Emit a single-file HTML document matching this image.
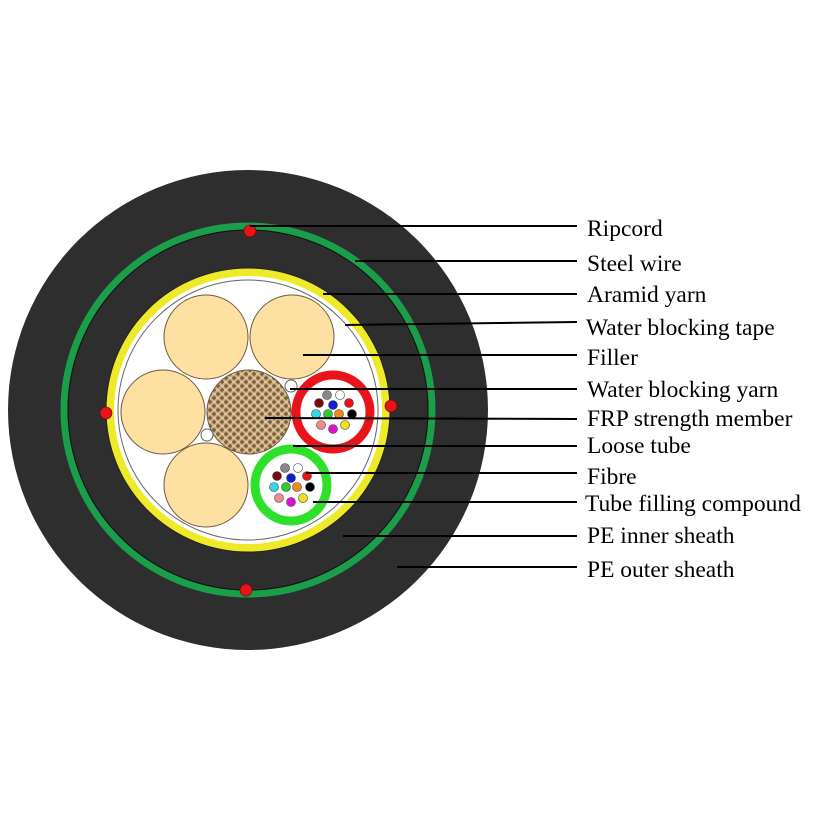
<!DOCTYPE html>
<html><head><style>body{margin:0;background:#fff}svg{display:block}</style></head><body>
<svg width="823" height="823" viewBox="0 0 823 823" xmlns="http://www.w3.org/2000/svg">
<defs>
<pattern id="jute" width="8" height="8" patternUnits="userSpaceOnUse">
<rect width="8" height="8" fill="#c9ad82"/>
<path d="M0 2h4M4 6h4M2 0v4M6 4v4" stroke="#7a5a32" stroke-width="1.5"/>
<path d="M0 6h3M5 2h3" stroke="#efe0c0" stroke-width="1"/>
</pattern>
</defs>
<circle cx="248" cy="410" r="240" fill="#2e2e2e"/>
<circle cx="248" cy="410" r="184" fill="none" stroke="#1a9e4a" stroke-width="7"/>
<circle cx="248" cy="410" r="180" fill="none" stroke="#111" stroke-width="1"/>
<circle cx="248" cy="410" r="138" fill="#fff" stroke="#eeea2a" stroke-width="8"/>
<circle cx="248" cy="410" r="142" fill="none" stroke="#222" stroke-width="1"/>
<circle cx="248" cy="410" r="130" fill="none" stroke="#666" stroke-width="1"/>
<g fill="#fde0a2" stroke="#6e5a40" stroke-width="1">
<circle cx="206" cy="337" r="42"/><circle cx="292" cy="337" r="42"/>
<circle cx="163" cy="412" r="42"/><circle cx="206" cy="485" r="42"/>
</g>
<circle cx="249" cy="412" r="42" fill="url(#jute)" stroke="#6e5a40"/>
<circle cx="291" cy="386" r="6" fill="#fff" stroke="#666"/>
<circle cx="207" cy="435" r="6" fill="#fff" stroke="#666"/>
<circle cx="333" cy="412" r="37" fill="#fff" stroke="#e8141a" stroke-width="9"/>
<circle cx="291" cy="485" r="36" fill="#fff" stroke="#2ee02a" stroke-width="9"/>
<g stroke="#444" stroke-width="0.6">
<g transform="translate(333,412)">
<circle cx="-6" cy="-17" r="4.5" fill="#888"/><circle cx="7" cy="-17" r="4.5" fill="#fff"/>
<circle cx="-14" cy="-9" r="4.5" fill="#7a0a0a"/><circle cx="0" cy="-7" r="4.5" fill="#1020d0"/><circle cx="16" cy="-9" r="4.5" fill="#e8141a"/>
<circle cx="-17" cy="2" r="4.5" fill="#30d8e8"/><circle cx="-5" cy="2" r="4.5" fill="#2ecc2e"/><circle cx="6" cy="2" r="4.5" fill="#f08a18"/><circle cx="19" cy="2" r="4.5" fill="#000"/>
<circle cx="-12" cy="13" r="4.5" fill="#f08a8a"/><circle cx="0" cy="17" r="4.5" fill="#e010d0"/><circle cx="12" cy="13" r="4.5" fill="#f0e020"/>
</g>
<g transform="translate(291,485)">
<circle cx="-6" cy="-17" r="4.5" fill="#888"/><circle cx="7" cy="-17" r="4.5" fill="#fff"/>
<circle cx="-14" cy="-9" r="4.5" fill="#7a0a0a"/><circle cx="0" cy="-7" r="4.5" fill="#1020d0"/><circle cx="16" cy="-9" r="4.5" fill="#e8141a"/>
<circle cx="-17" cy="2" r="4.5" fill="#30d8e8"/><circle cx="-5" cy="2" r="4.5" fill="#2ecc2e"/><circle cx="6" cy="2" r="4.5" fill="#f08a18"/><circle cx="19" cy="2" r="4.5" fill="#000"/>
<circle cx="-12" cy="13" r="4.5" fill="#f08a8a"/><circle cx="0" cy="17" r="4.5" fill="#e010d0"/><circle cx="12" cy="13" r="4.5" fill="#f0e020"/>
</g>
</g>
<g fill="#e8141a" stroke="#600" stroke-width="0.6">
<circle cx="250" cy="231" r="6"/><circle cx="106" cy="413" r="6"/><circle cx="391" cy="406" r="6"/><circle cx="246" cy="590" r="6"/>
</g>
<g stroke="#000" stroke-width="2">
<line x1="250" y1="226" x2="577" y2="226"/>
<line x1="355" y1="261" x2="577" y2="261"/>
<line x1="323" y1="294" x2="577" y2="294"/>
<line x1="345" y1="325" x2="577" y2="322"/>
<line x1="303" y1="355" x2="577" y2="355"/>
<line x1="290" y1="389" x2="577" y2="389"/>
<line x1="265" y1="418" x2="577" y2="419"/>
<line x1="293" y1="446" x2="577" y2="446"/>
<line x1="306" y1="473" x2="577" y2="473"/>
<line x1="313" y1="502" x2="577" y2="502"/>
<line x1="343" y1="536" x2="577" y2="536"/>
<line x1="397" y1="567" x2="577" y2="567"/>
</g>
<g font-family="Liberation Serif, serif" font-size="23.5" fill="#000">
<text x="587" y="236">Ripcord</text>
<text x="587" y="271">Steel wire</text>
<text x="587" y="302">Aramid yarn</text>
<text x="586" y="335">Water blocking tape</text>
<text x="587" y="365">Filler</text>
<text x="587" y="397">Water blocking yarn</text>
<text x="587" y="426">FRP strength member</text>
<text x="587" y="453">Loose tube</text>
<text x="587" y="484">Fibre</text>
<text x="585" y="511">Tube filling compound</text>
<text x="587" y="543">PE inner sheath</text>
<text x="587" y="577">PE outer sheath</text>
</g>
</svg>
</body></html>
